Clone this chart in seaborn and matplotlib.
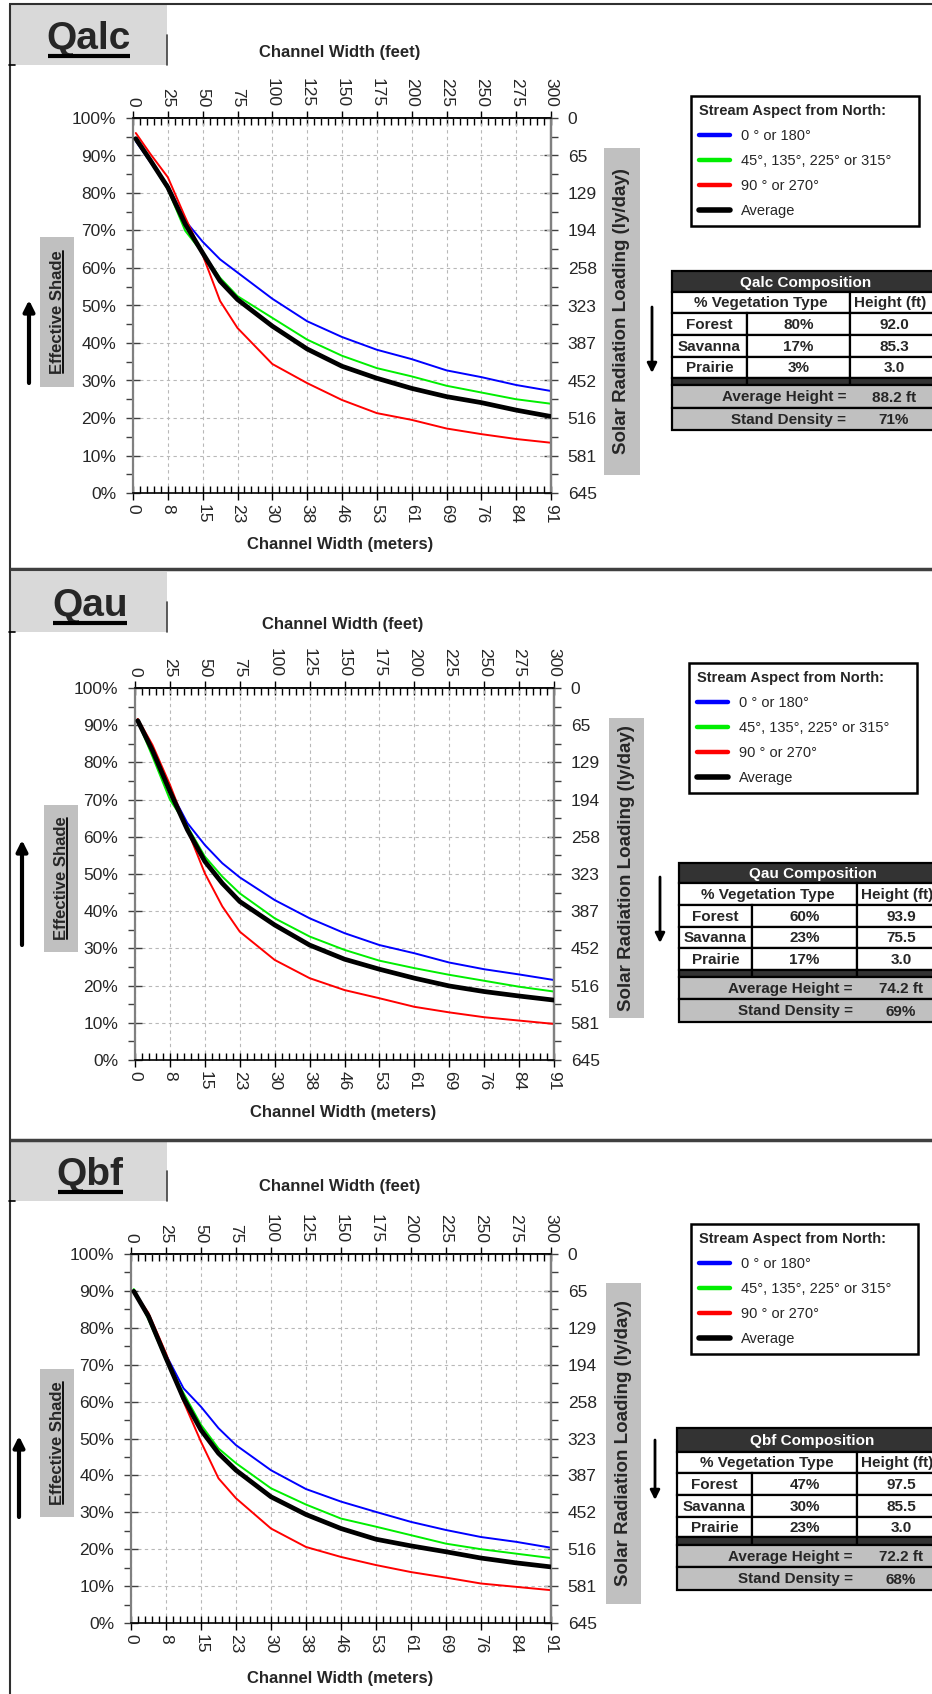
import numpy as np
import pandas as pd
import matplotlib
matplotlib.use("Agg")
import matplotlib.pyplot as plt
import seaborn as sns
from matplotlib.patches import Rectangle
from matplotlib.lines import Line2D
from matplotlib.ticker import MultipleLocator

# ---------------- data ----------------
channel_width_ft = [2, 12.5, 25, 37.5, 50, 62.5, 75, 100, 125, 150, 175, 200, 225, 250, 275, 300]
aspect_labels = ["0 \u00b0 or 180\u00b0", "45\u00b0, 135\u00b0, 225\u00b0 or 315\u00b0", "90 \u00b0 or 270\u00b0", "Average"]
aspect_colors = ["#0000ff", "#00ee00", "#ff0000", "#000000"]

qalc_0_180 = [93.8, 88.2, 82.0, 72.6, 67.0, 62.3, 58.8, 51.8, 45.8, 41.6, 38.2, 35.7, 32.7, 30.9, 28.8, 27.2]
qalc_45_135 = [94.0, 88.4, 81.0, 69.9, 64.0, 57.4, 52.5, 46.7, 40.9, 36.6, 33.3, 31.1, 28.6, 26.8, 25.0, 23.8]
qalc_90_270 = [96.0, 90.4, 84.2, 73.5, 63.5, 51.2, 44.0, 34.4, 29.3, 24.8, 21.3, 19.5, 17.2, 15.7, 14.4, 13.4]
qalc_average = [94.5, 88.7, 81.5, 71.7, 64.0, 56.5, 51.6, 44.5, 38.4, 33.8, 30.6, 27.9, 25.7, 24.1, 22.1, 20.4]

qau_0_180 = [91.0, 83.0, 72.6, 63.7, 57.8, 52.9, 49.1, 43.0, 38.1, 34.1, 30.9, 28.7, 26.2, 24.4, 23.0, 21.5]
qau_45_135 = [91.0, 81.6, 70.0, 62.8, 54.7, 49.3, 44.8, 38.1, 33.2, 29.6, 26.7, 24.7, 22.9, 21.3, 19.7, 18.4]
qau_90_270 = [91.7, 84.7, 74.0, 61.9, 50.2, 41.3, 34.5, 26.9, 22.0, 18.8, 16.6, 14.3, 12.8, 11.5, 10.6, 9.7]
qau_average = [91.2, 83.2, 72.2, 61.9, 53.4, 47.5, 42.6, 36.3, 30.9, 27.1, 24.4, 22.0, 19.9, 18.4, 17.2, 16.1]

qbf_0_180 = [89.9, 82.6, 72.7, 63.6, 58.6, 52.8, 48.2, 41.4, 36.3, 32.9, 30.1, 27.4, 25.2, 23.3, 22.0, 20.4]
qbf_45_135 = [90.5, 82.2, 71.3, 62.3, 53.7, 47.3, 43.3, 36.5, 32.1, 28.3, 26.1, 23.8, 21.5, 20.0, 18.8, 17.6]
qbf_90_270 = [89.9, 84.0, 73.1, 60.0, 49.1, 39.2, 33.8, 25.6, 20.6, 17.9, 15.7, 13.8, 12.3, 10.7, 9.8, 8.9]
qbf_average = [89.9, 83.1, 71.8, 60.9, 52.3, 46.0, 41.4, 34.2, 29.4, 25.6, 22.7, 20.9, 19.3, 17.6, 16.3, 15.2]

feet_ticks = [0, 25, 50, 75, 100, 125, 150, 175, 200, 225, 250, 275, 300]
meter_tick_labels = ["0", "8", "15", "23", "30", "38", "46", "53", "61", "69", "76", "84", "91"]
shade_ticks = [0, 10, 20, 30, 40, 50, 60, 70, 80, 90, 100]
shade_tick_labels = ["0%", "10%", "20%", "30%", "40%", "50%", "60%", "70%", "80%", "90%", "100%"]
solar_tick_labels = ["645", "581", "516", "452", "387", "323", "258", "194", "129", "65", "0"]

veg_types = ["Forest", "Savanna", "Prairie"]
qalc_veg_pct = ["80%", "17%", "3%"]
qalc_veg_height = ["92.0", "85.3", "3.0"]
qalc_avg_height = "88.2 ft"
qalc_stand_density = "71%"
qau_veg_pct = ["60%", "23%", "17%"]
qau_veg_height = ["93.9", "75.5", "3.0"]
qau_avg_height = "74.2 ft"
qau_stand_density = "69%"
qbf_veg_pct = ["47%", "30%", "23%"]
qbf_veg_height = ["97.5", "85.5", "3.0"]
qbf_avg_height = "72.2 ft"
qbf_stand_density = "68%"

# ---------------- style ----------------
sns.set_style("white")
plt.rcParams["font.family"] = ["Liberation Sans", "DejaVu Sans"]

W, H = 932, 1694
fig = plt.figure(figsize=(W / 100, H / 100), dpi=100)
fig.patch.set_facecolor("white")

ov = fig.add_axes([0, 0, 1, 1], zorder=0)
ov.set_xlim(0, W)
ov.set_ylim(H, 0)
ov.axis("off")


def px_axes(l, t, r, b, **kw):
    return fig.add_axes([l / W, 1 - b / H, (r - l) / W, (b - t) / H], **kw)


panels = [
    dict(name="Qalc", series=[qalc_0_180, qalc_45_135, qalc_90_270, qalc_average],
         pct=qalc_veg_pct, hgt=qalc_veg_height, avg=qalc_avg_height, dens=qalc_stand_density,
         axes=(133, 118, 551, 493), label_box=(11, 5, 167, 65), label_xy=(89, 39),
         feet_title_y=52, meter_title_y=545, title_x=340,
         shade_box=(40, 237, 74, 387), up_arrow=(29, 383, 300),
         solar_box=(604, 148, 640, 475), down_arrow=(652, 307, 373),
         legend_box=(691, 96, 919, 229),
         tab_x=(672, 747, 850), tab_y=(271, 292, 313, 335, 357, 378, 385, 408, 430)),
    dict(name="Qau", series=[qau_0_180, qau_45_135, qau_90_270, qau_average],
         pct=qau_veg_pct, hgt=qau_veg_height, avg=qau_avg_height, dens=qau_stand_density,
         axes=(135, 688, 554, 1060), label_box=(11, 572, 167, 632), label_xy=(90, 606),
         feet_title_y=624, meter_title_y=1112, title_x=343,
         shade_box=(44, 805, 78, 952), up_arrow=(22, 945, 840),
         solar_box=(609, 718, 644, 1018), down_arrow=(660, 877, 943),
         legend_box=(689, 663, 917, 797),
         tab_x=(679, 752, 857), tab_y=(863, 883, 905, 927, 948, 970, 977, 999, 1022)),
    dict(name="Qbf", series=[qbf_0_180, qbf_45_135, qbf_90_270, qbf_average],
         pct=qbf_veg_pct, hgt=qbf_veg_height, avg=qbf_avg_height, dens=qbf_stand_density,
         axes=(131, 1254, 551, 1623), label_box=(11, 1142, 167, 1201), label_xy=(90, 1175),
         feet_title_y=1186, meter_title_y=1679, title_x=340,
         shade_box=(40, 1369, 74, 1517), up_arrow=(19, 1517, 1436),
         solar_box=(606, 1283, 641, 1604), down_arrow=(655, 1440, 1500),
         legend_box=(691, 1224, 918, 1363),
         tab_x=(677, 752, 857), tab_y=(1428, 1452, 1473, 1495, 1517, 1537, 1545, 1567, 1590)),
]

underlines = []
legends = []

# frame lines
ov.plot([9, W], [4, 4], color="#303030", lw=1.5, solid_capstyle="butt")
ov.plot([10, 10], [4, H], color="#303030", lw=1.5, solid_capstyle="butt")
ov.plot([10, W], [569, 569], color="#404040", lw=2.5, solid_capstyle="butt")
ov.plot([10, W], [1140, 1140], color="#404040", lw=2.5, solid_capstyle="butt")

TICK_FS = 12.5

for p in panels:
    ax = px_axes(*p["axes"], zorder=2)
    n = len(channel_width_ft)
    df = pd.DataFrame({
        "width_ft": channel_width_ft * 4,
        "shade": sum(p["series"], []),
        "aspect": np.repeat(aspect_labels, n),
    })
    sns.lineplot(data=df, x="width_ft", y="shade", hue="aspect", hue_order=aspect_labels,
                 palette=aspect_colors, estimator=None, sort=False, legend=False, ax=ax,
                 linewidth=1.4)
    for ln in ax.lines:
        if matplotlib.colors.to_hex(ln.get_color()) == "#000000":
            ln.set_linewidth(3.4)
            ln.set_zorder(5)
    ax.set_xlim(0, 300)
    ax.set_ylim(0, 100)
    ax.set_xlabel("")
    ax.set_ylabel("")
    ax.set_xticks(feet_ticks, labels=meter_tick_labels, rotation=270)
    ax.xaxis.set_minor_locator(MultipleLocator(5))
    ax.set_yticks(shade_ticks, labels=shade_tick_labels)
    ax.yaxis.set_minor_locator(MultipleLocator(5))
    ax.grid(True, which="major", color="#b8b8b8", linestyle=(0, (3, 3)), linewidth=0.8)
    ax.tick_params(axis="x", which="major", direction="inout", length=10, width=1,
                   labelsize=TICK_FS, pad=3, top=False, bottom=True, color="black")
    ax.tick_params(axis="x", which="minor", direction="in", length=5, width=1,
                   top=False, bottom=True, color="black")
    ax.tick_params(axis="y", which="major", direction="inout", length=10, width=1,
                   labelsize=TICK_FS, pad=7, left=True, right=False, color="#404040")
    ax.tick_params(axis="y", which="minor", direction="out", length=5, width=1,
                   left=True, right=False, color="#404040")
    for s in ["left", "right"]:
        ax.spines[s].set_color("#808080")
        ax.spines[s].set_linewidth(1.6)
    for s in ["top", "bottom"]:
        ax.spines[s].set_color("black")
        ax.spines[s].set_linewidth(1.2)
        ax.spines[s].set_visible(True)

    sec = ax.secondary_xaxis("top")
    sec.set_xticks(feet_ticks, labels=[str(v) for v in feet_ticks])
    sec.xaxis.set_minor_locator(MultipleLocator(5))
    sec.tick_params(axis="x", which="major", direction="inout", length=10, width=1,
                    labelsize=TICK_FS, pad=3, labelrotation=270, color="black")
    sec.tick_params(axis="x", which="minor", direction="in", length=5, width=1, color="black")
    sec.spines["top"].set_linewidth(1.2)

    secy = ax.secondary_yaxis("right")
    secy.set_yticks(shade_ticks, labels=solar_tick_labels)
    secy.yaxis.set_minor_locator(MultipleLocator(5))
    secy.tick_params(axis="y", which="major", direction="inout", length=10, width=1,
                     labelsize=TICK_FS, pad=7, color="#404040")
    secy.tick_params(axis="y", which="minor", direction="out", length=5, width=1, color="#404040")
    secy.spines["right"].set_color("#808080")
    secy.spines["right"].set_linewidth(1.6)

    # axis titles
    ov.text(p["title_x"], p["feet_title_y"], "Channel Width (feet)", ha="center", va="center",
            fontsize=12, fontweight="bold")
    ov.text(p["title_x"], p["meter_title_y"], "Channel Width (meters)", ha="center", va="center",
            fontsize=12, fontweight="bold")

    # panel label
    l, t, r, b = p["label_box"]
    ov.add_patch(Rectangle((l, t), r - l, b - t, facecolor="#d9d9d9", edgecolor="none", zorder=1))
    ov.plot([r, r], [(t + b) / 2, b], color="#404040", lw=1.2, zorder=2)
    ov.plot([l - 2, l + 4], [b, b], color="black", lw=1.2, zorder=2)
    tq = ov.text(p["label_xy"][0], p["label_xy"][1], p["name"], ha="center", va="center",
                 fontsize=28, fontweight="bold", zorder=3)
    underlines.append((tq, "h"))

    # Effective Shade
    l, t, r, b = p["shade_box"]
    ov.add_patch(Rectangle((l, t), r - l, b - t, facecolor="#c0c0c0", edgecolor="none", zorder=1))
    ts = ov.text((l + r) / 2, (t + b) / 2, "Effective Shade", rotation=90, ha="center", va="center",
                 fontsize=12, fontweight="bold", zorder=3)
    underlines.append((ts, "v"))
    x, y0, y1 = p["up_arrow"]
    ov.annotate("", xy=(x, y1), xytext=(x, y0),
                arrowprops=dict(arrowstyle="-|>", lw=3, color="black", mutation_scale=16,
                                shrinkA=0, shrinkB=0))

    # Solar radiation label
    l, t, r, b = p["solar_box"]
    ov.add_patch(Rectangle((l, t), r - l, b - t, facecolor="#c0c0c0", edgecolor="none", zorder=1))
    ov.text((l + r) / 2, (t + b) / 2, "Solar Radiation Loading (ly/day)", rotation=90,
            ha="center", va="center", fontsize=13.5, fontweight="bold", zorder=3)
    x, y0, y1 = p["down_arrow"]
    ov.annotate("", xy=(x, y1), xytext=(x, y0),
                arrowprops=dict(arrowstyle="-|>", lw=2, color="black", mutation_scale=14,
                                shrinkA=0, shrinkB=0))

    # legend
    l, t, r, b = p["legend_box"]
    handles = [Line2D([], [], color=c, lw=(4 if c == "#000000" else 3.2)) for c in aspect_colors]
    leg = ax.legend(handles=handles, labels=aspect_labels, loc="upper left",
                    bbox_to_anchor=(l / W, 1 - b / H, (r - l) / W, (b - t) / H),
                    bbox_transform=fig.transFigure, mode="expand", frameon=True, fancybox=False,
                    framealpha=1, edgecolor="black", fontsize=10.5,
                    title="Stream Aspect from North:",
                    title_fontproperties={"weight": "bold", "size": 10.5},
                    handlelength=2.1, handletextpad=0.8, labelspacing=0.75, borderpad=0.55,
                    borderaxespad=0)
    leg.get_frame().set_linewidth(1.8)
    leg._legend_box.align = "left"
    legends.append(leg)

    # composition table
    x0, x1, x2 = p["tab_x"]
    x3 = x2 + 90
    ys = p["tab_y"]
    dark, gray = "#333333", "#c0c0c0"
    tfs = 11

    def cell(xa, ya, xb, yb, fc):
        ov.add_patch(Rectangle((xa, ya), xb - xa, yb - ya, facecolor=fc, edgecolor="black",
                               lw=1.6, zorder=2))

    cell(x0, ys[0], x3, ys[1], dark)
    ov.text((x0 + x3) / 2, (ys[0] + ys[1]) / 2 + 1, f"{p['name']} Composition", color="white",
            ha="center", va="center", fontsize=tfs, fontweight="bold", zorder=3)
    cell(x0, ys[1], x2, ys[2], "white")
    cell(x2, ys[1], x3, ys[2], "white")
    ov.text((x0 + x2) / 2, (ys[1] + ys[2]) / 2 + 1, "% Vegetation Type", ha="center", va="center",
            fontsize=tfs, fontweight="bold", zorder=3)
    ov.text(x2 + 4, (ys[1] + ys[2]) / 2 + 1, "Height (ft)", ha="left", va="center",
            fontsize=tfs, fontweight="bold", zorder=3)
    for i in range(3):
        ya, yb = ys[2 + i], ys[3 + i]
        cell(x0, ya, x1, yb, "white")
        cell(x1, ya, x2, yb, "white")
        cell(x2, ya, x3, yb, "white")
        ym = (ya + yb) / 2 + 1
        ov.text((x0 + x1) / 2, ym, veg_types[i], ha="center", va="center", fontsize=tfs,
                fontweight="bold", zorder=3)
        ov.text((x1 + x2) / 2, ym, p["pct"][i], ha="center", va="center", fontsize=tfs,
                fontweight="bold", zorder=3)
        ov.text(x2 + 44, ym, p["hgt"][i], ha="center", va="center", fontsize=tfs,
                fontweight="bold", zorder=3)
    cell(x0, ys[5], x1, ys[6], dark)
    cell(x1, ys[5], x2, ys[6], dark)
    cell(x2, ys[5], x3, ys[6], dark)
    cell(x0, ys[6], x3, ys[7], gray)
    cell(x0, ys[7], x3, ys[8], gray)
    for (ya, yb, lab, val) in [(ys[6], ys[7], "Average Height =", p["avg"]),
                               (ys[7], ys[8], "Stand Density =", p["dens"])]:
        ym = (ya + yb) / 2 + 1
        ov.text(x2 - 4, ym, lab, ha="right", va="center", fontsize=tfs, fontweight="bold", zorder=3)
        ov.text(x2 + 44, ym, val, ha="center", va="center", fontsize=tfs, fontweight="bold", zorder=3)

# ---------------- underlines ----------------
fig.canvas.draw()
renderer = fig.canvas.get_renderer()
for t_art, kind in underlines:
    bb = t_art.get_window_extent(renderer)
    if kind == "h":
        y = H - bb.y0 - 1
        ov.plot([bb.x0 + 1, bb.x1 - 1], [y, y], color="black", lw=3, solid_capstyle="butt", zorder=4)
    else:
        x = bb.x1 - 2
        ov.plot([x, x], [H - bb.y0 - 1, H - bb.y1 + 1], color="black", lw=1.3, zorder=4)
for leg in legends:
    tt = leg.get_title()
    bb = tt.get_window_extent(renderer)
    y = H - bb.y0 - 1
    ov.plot([bb.x0, bb.x1 - 5], [y, y], color="black", lw=1.2, zorder=10)

fig.savefig("out.png", dpi=100)
